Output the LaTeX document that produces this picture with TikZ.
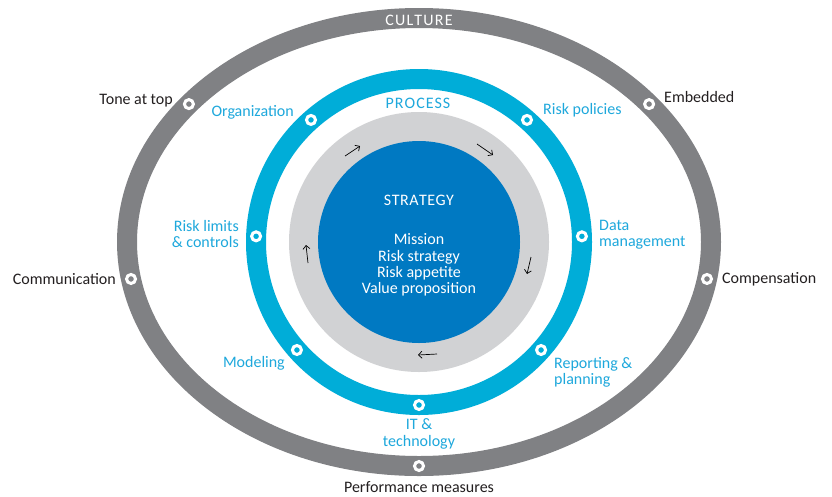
\documentclass[tikz,border=0pt]{standalone}
\usepackage{fontspec}
\setmainfont{Carlito}
\usetikzlibrary{arrows.meta,calc}
\definecolor{culturegray}{HTML}{808184}
\definecolor{processblue}{HTML}{00ADD8}
\definecolor{stratblue}{HTML}{0079C2}
\definecolor{disklight}{HTML}{D1D2D4}
\definecolor{labelblue}{HTML}{1EA8DC}
\definecolor{labelblack}{HTML}{231F20}
\tikzset{
  lbl/.style={inner sep=0pt, font=\fontsize{16}{16.3}\selectfont, text=labelblack},
  blbl/.style={lbl, text=labelblue},
  graymark/.style={circle, draw=white, line width=3pt, fill=culturegray, minimum size=9pt, inner sep=0pt},
  bluemark/.style={circle, draw=white, line width=3pt, fill=processblue, minimum size=9pt, inner sep=0pt},
  flow/.style={draw=black, line width=0.7pt, -{Straight Barb[length=3.5pt,width=7pt]}}
}
\begin{document}
\begin{tikzpicture}[x=1pt,y=-1pt]
\path[use as bounding box, fill=white] (0,0) rectangle (832,496);
\coordinate (C) at (419,242);
% culture ring
\draw[culturegray, line width=20pt] (C) ellipse [x radius=292pt, y radius=224pt];
% process ring
\draw[processblue, line width=20pt] (C) circle [radius=163pt];
% strategy disks
\fill[disklight] (C) circle [radius=130pt];
\fill[stratblue] (C) circle [radius=101pt];

% culture markers
\node[graymark] (tone) at ($(C)+(142:292pt and 224pt)$) {};
\node[graymark] (emb) at ($(C)+(38:292pt and 224pt)$) {};
\node[graymark] (comm) at ($(C)+(189.5:292pt and 224pt)$) {};
\node[graymark] (comp) at ($(C)+(-9.5:292pt and 224pt)$) {};
\node[graymark] (perf) at ($(C)+(270:292pt and 224pt)$) {};
% process markers
\node[bluemark] (org) at ($(C)+(131.5:163pt)$) {};
\node[bluemark] (pol) at ($(C)+(48.5:163pt)$) {};
\node[bluemark] (lim) at ($(C)+(178:163pt)$) {};
\node[bluemark] (data) at ($(C)+(2:163pt)$) {};
\node[bluemark] (mod) at ($(C)+(221.5:163pt)$) {};
\node[bluemark] (rep) at ($(C)+(-41.5:163pt)$) {};
\node[bluemark] (it) at ($(C)+(270:163pt)$) {};

% titles
\node[lbl, text=white] (culture) at (419,20) {C\kern1.2pt U\kern1.2pt L\kern1.2pt T\kern1.2pt U\kern1.2pt R\kern1.2pt E};
\node[blbl] (process) at (418,103) {P\kern1pt R\kern1pt O\kern1pt C\kern1pt E\kern1pt S\kern1pt S};
\node[lbl, text=white] (strategy) at (419,200) {S\kern0.5pt T\kern0.5pt R\kern0.5pt A\kern0.5pt T\kern0.5pt E\kern0.5pt G\kern0.5pt Y};
\node[lbl, text=white, align=center] (items) at (419,265) {Mission\\Risk strategy\\Risk appetite\\Value proposition};

% culture labels
\node[lbl, anchor=east] (tonel) at (173,101) {Tone at top};
\node[lbl, anchor=west] (embl) at (664,97) {Embedded};
\node[lbl, anchor=east] (comml) at (116,279) {Communication};
\node[lbl, anchor=west] (compl) at (722,279) {Compensation};
\node[lbl] (perfl) at (419,487) {Performance measures};
% process labels
\node[blbl, anchor=east] (orgl) at (294,112) {Organization};
\node[blbl, anchor=west] (poll) at (543,110) {Risk policies};
\node[blbl, anchor=east, align=right] (liml) at (239,234) {Risk limits\\\& controls};
\node[blbl, anchor=west, align=left] (datal) at (599,235) {Data\\management};
\node[blbl, anchor=east] (modl) at (285,363) {Modeling};
\node[blbl, anchor=west, align=left] (repl) at (554,372) {Reporting \&\\planning};
\node[blbl, align=center] (itl) at (419,434) {IT \&\\technology};

% flow arrows
\coordinate (a1s) at (345,156); \coordinate (a1e) at (360,146);
\coordinate (a2s) at (477,144); \coordinate (a2e) at (493,155);
\coordinate (a3s) at (531,257); \coordinate (a3e) at (527,274);
\coordinate (a4s) at (437,354); \coordinate (a4e) at (418,355);
\coordinate (a5s) at (308,263); \coordinate (a5e) at (306,245);
\draw[flow] (a1s) -- (a1e);
\draw[flow] (a2s) -- (a2e);
\draw[flow] (a3s) -- (a3e);
\draw[flow] (a4s) -- (a4e);
\draw[flow] (a5s) -- (a5e);
\end{tikzpicture}
\end{document}
